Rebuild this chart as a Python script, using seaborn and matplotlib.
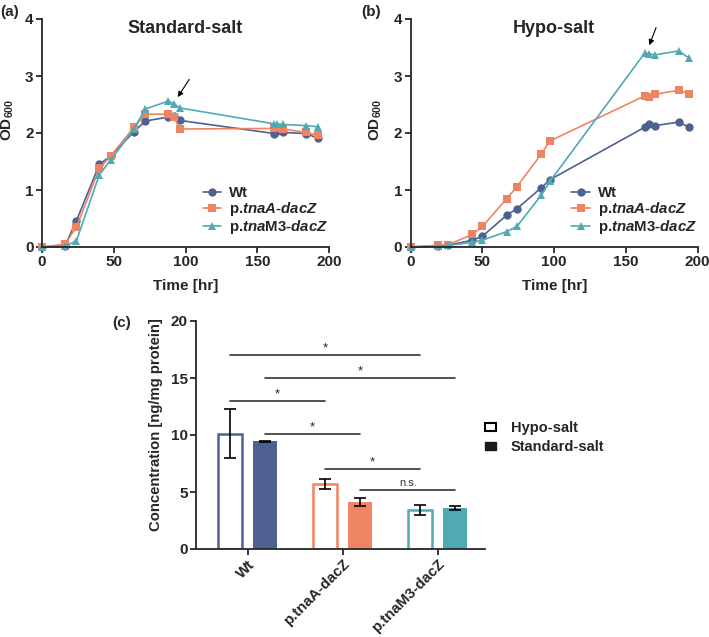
import numpy as np
import pandas as pd
import matplotlib
matplotlib.use("Agg")
import matplotlib.pyplot as plt
import seaborn as sns
from matplotlib.patches import Patch

# ---------------- data ----------------
strains = ["Wt", r"p.$\mathit{tnaA}$-$\mathit{dacZ}$", r"p.$\mathit{tna}$M3-$\mathit{dacZ}$"]

t_a = [0, 16, 24, 40, 48, 64, 72, 88, 92, 96, 162, 164, 168, 184, 192]
wt_a = [0, 0.02, 0.46, 1.45, 1.60, 2.02, 2.21, 2.28, 2.30, 2.22, 1.99, 2.04, 2.01, 1.99, 1.91]
tnaA_a = [0, 0.05, 0.35, 1.38, 1.60, 2.10, 2.33, 2.33, 2.28, 2.07, 2.08, 2.08, 2.07, 2.01, 1.96]
tnaM3_a = [0, 0.01, 0.11, 1.27, 1.53, 2.07, 2.42, 2.56, 2.51, 2.44, 2.16, 2.16, 2.15, 2.13, 2.11]

t_b = [0, 19, 26, 43, 50, 67, 74, 91, 97, 163, 166, 170, 187, 194]
wt_b = [0, 0.02, 0.03, 0.12, 0.19, 0.56, 0.67, 1.04, 1.18, 2.10, 2.16, 2.13, 2.19, 2.10]
tnaA_b = [0, 0.03, 0.04, 0.22, 0.36, 0.85, 1.06, 1.63, 1.86, 2.65, 2.63, 2.68, 2.75, 2.69]
tnaM3_b = [0, 0.01, 0.03, 0.08, 0.12, 0.27, 0.36, 0.91, 1.15, 3.40, 3.39, 3.37, 3.44, 3.31]

bar_groups = ["Wt", "p.tnaA-dacZ", "p.tnaM3-dacZ"]
salts = ["Hypo-salt", "Standard-salt"]
hypo_mean = [10.1, 5.7, 3.45]
hypo_err = [2.15, 0.45, 0.45]
std_mean = [9.43, 4.1, 3.6]
std_err = [0.05, 0.35, 0.15]

# comparisons: (group_i, salt_i, group_j, salt_j, level, label)
comparisons = [
    (0, 0, 2, 0, 17.0, "*"),
    (0, 1, 2, 1, 15.0, "*"),
    (0, 0, 1, 0, 13.0, "*"),
    (0, 1, 1, 1, 10.1, "*"),
    (1, 0, 2, 0, 7.0, "*"),
    (1, 1, 2, 1, 5.2, "n.s."),
]

colors = ["#4F6190", "#EF8462", "#4FAAB4"]

# ---------------- style ----------------
sns.set_style("ticks")
plt.rcParams["font.family"] = ["Liberation Sans", "DejaVu Sans"]
plt.rcParams["font.weight"] = "bold"
plt.rcParams["axes.labelweight"] = "bold"
plt.rcParams["mathtext.fontset"] = "custom"
plt.rcParams["mathtext.rm"] = "Liberation Sans:bold"
plt.rcParams["mathtext.it"] = "Liberation Sans:italic:bold"
plt.rcParams["mathtext.bf"] = "Liberation Sans:bold"
plt.rcParams["axes.linewidth"] = 1.3
plt.rcParams["xtick.major.width"] = 1.3
plt.rcParams["ytick.major.width"] = 1.3
plt.rcParams["xtick.major.size"] = 4
plt.rcParams["ytick.major.size"] = 4

W, H = 709, 637
fig = plt.figure(figsize=(W / 100, H / 100), dpi=100)

def frac(l, r, t, b):
    return [l / W, 1 - b / H, (r - l) / W, (b - t) / H]

ax_a = fig.add_axes(frac(42, 329, 19, 247))
ax_b = fig.add_axes(frac(410.7, 697.7, 19, 247))
ax_c = fig.add_axes(frac(196, 485, 321, 549))

palette = dict(zip(strains, colors))
markers = dict(zip(strains, ["o", "s", "^"]))

def growth(ax, t, series, title, arrow, ylab_x):
    frames = []
    for name, vals in zip(strains, series):
        frames.append(pd.DataFrame({"t": t, "od": vals, "strain": name}))
    df = pd.concat(frames, ignore_index=True)
    sns.lineplot(data=df, x="t", y="od", hue="strain", style="strain",
                 hue_order=strains, style_order=strains, palette=palette,
                 markers=markers, dashes=False, markersize=6, linewidth=1.2,
                 markeredgewidth=0, ax=ax, sort=True, clip_on=False)
    ax.set_xlim(0, 200)
    ax.set_ylim(0, 4)
    ax.set_xticks([0, 50, 100, 150, 200])
    ax.set_yticks([0, 1, 2, 3, 4])
    ax.tick_params(labelsize=11, pad=2)
    ax.set_xlabel("Time [hr]", fontsize=11, labelpad=7)
    ax.set_ylabel("OD$_{600}$", fontsize=11)
    ax.yaxis.set_label_coords(ylab_x, 0.56)
    sns.despine(ax=ax)
    ax.text(100, 3.83, title, ha="center", va="center", fontsize=13, fontweight="bold")
    ax.annotate("", xy=arrow[0], xytext=arrow[1],
                arrowprops=dict(arrowstyle="-|>", color="black", lw=0.8, mutation_scale=8,
                                shrinkA=0, shrinkB=0))
    leg = ax.legend(loc="center left", bbox_to_anchor=(0.56, 0.158), frameon=False,
                    fontsize=10.8, handlelength=1.25, handletextpad=0.5, labelspacing=0.0,
                    borderpad=0, borderaxespad=0)
    for txt in leg.get_texts():
        txt.set_fontweight("bold")

growth(ax_a, t_a, [wt_a, tnaA_a, tnaM3_a], "Standard-salt", ((94.6, 2.63), (102.6, 2.94)), -0.09)
growth(ax_b, t_b, [wt_b, tnaA_b, tnaM3_b], "Hypo-salt", ((166.3, 3.54), (171.0, 3.85)), -0.093)

# ---------------- bar chart ----------------
rows = []
for g, hm, sm in zip(bar_groups, hypo_mean, std_mean):
    rows.append({"strain": g, "salt": salts[0], "conc": hm})
    rows.append({"strain": g, "salt": salts[1], "conc": sm})
bdf = pd.DataFrame(rows)
sns.barplot(data=bdf, x="strain", y="conc", hue="salt", order=bar_groups, hue_order=salts,
            errorbar=None, width=0.744, gap=0.33, ax=ax_c, legend=False)

centers = {}
bar_conts = list(ax_c.containers)
for si, cont in enumerate(bar_conts):
    errs = hypo_err if si == 0 else std_err
    means = hypo_mean if si == 0 else std_mean
    for gi, bar in enumerate(cont):
        c = colors[gi]
        if si == 0:
            bar.set_facecolor("white")
            bar.set_edgecolor(c)
            bar.set_linewidth(1.8)
        else:
            bar.set_facecolor(c)
            bar.set_edgecolor(c)
            bar.set_linewidth(0)
        xc = bar.get_x() + bar.get_width() / 2
        centers[(gi, si)] = xc
        ax_c.errorbar(xc, means[gi], yerr=errs[gi], color="black", capsize=4,
                      elinewidth=1.2, capthick=1.2, zorder=5)

for gi, si, gj, sj, lvl, lab in comparisons:
    x1, x2 = centers[(gi, si)], centers[(gj, sj)]
    ax_c.plot([x1, x2], [lvl, lvl], color="#333333", lw=1.2)
    if lab == "*":
        ax_c.text((x1 + x2) / 2, lvl + 0.05, lab, ha="center", va="bottom", fontsize=9.5,
                  fontweight="normal", color="#222222")
    else:
        ax_c.text((x1 + x2) / 2, lvl + 0.15, lab, ha="center", va="bottom", fontsize=8,
                  fontweight="normal", color="#333333")

ax_c.set_xlim(-0.544, 2.5)
ax_c.set_ylim(0, 20)
ax_c.set_yticks([0, 5, 10, 15, 20])
ax_c.tick_params(axis="y", labelsize=11, pad=2)
ax_c.tick_params(axis="x", labelsize=10.8, pad=2)
plt.setp(ax_c.get_xticklabels(), rotation=45, ha="right", rotation_mode="anchor",
         fontweight="bold")
ax_c.set_xlabel("")
ax_c.set_ylabel("Concentration [ng/mg protein]", fontsize=10.7)
ax_c.yaxis.set_label_coords(-0.113, 0.544)
sns.despine(ax=ax_c)

handles = [Patch(facecolor="white", edgecolor="black", linewidth=1.5, label=salts[0]),
           Patch(facecolor="#1a1a1a", edgecolor="#1a1a1a", label=salts[1])]
legc = ax_c.legend(handles=handles, loc="upper left", bbox_to_anchor=(1.0, 0.56),
                   frameon=False, fontsize=10.5, handlelength=0.75, handleheight=0.45,
                   handletextpad=1.0, labelspacing=0.35, borderpad=0, borderaxespad=0)
for txt in legc.get_texts():
    txt.set_fontweight("bold")

fig.text(0 / W, 1 - 12 / H, "(a)", fontsize=11, fontweight="bold", va="center", ha="left")
fig.text(361 / W, 1 - 12 / H, "(b)", fontsize=11, fontweight="bold", va="center", ha="left")
fig.text(112 / W, 1 - 323 / H, "(c)", fontsize=11, fontweight="bold", va="center", ha="left")

fig.savefig("out.png", dpi=100)
